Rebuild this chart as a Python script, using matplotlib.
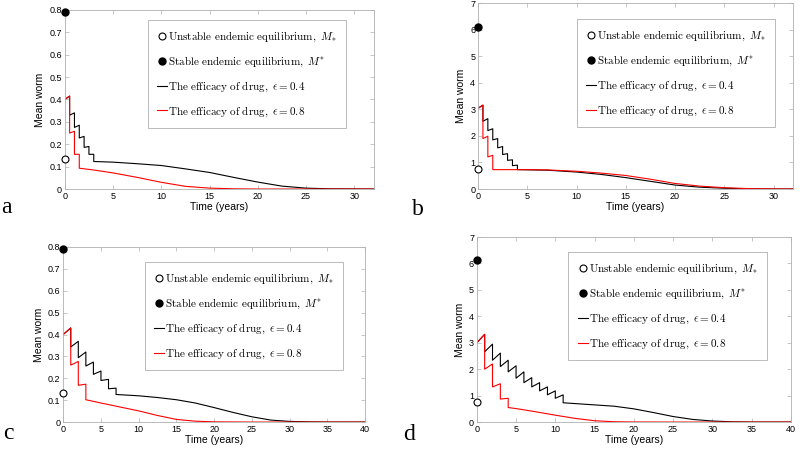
import matplotlib
matplotlib.use("Agg")
import matplotlib.pyplot as plt
from matplotlib.lines import Line2D

plt.rcParams['font.family'] = ['Liberation Sans', 'DejaVu Sans']
plt.rcParams['mathtext.fontset'] = 'cm'

# ---- panel a (0.5-yearly treatment) ----
t_a_04 = [0, 0.5, 0.5, 1, 1, 1.5, 1.5, 2, 2, 2.5, 2.5, 3, 3, 5, 7.5, 10, 12.5, 15, 17.5, 20, 22.5, 25, 27.5, 32]
y_a_04 = [0.40, 0.415, 0.33, 0.34, 0.275, 0.285, 0.228, 0.235, 0.186, 0.19, 0.155, 0.155, 0.123, 0.12, 0.113, 0.105, 0.09, 0.074, 0.052, 0.031, 0.013, 0.004, 0.001, 0.0]
t_a_08 = [0, 0.5, 0.5, 1, 1, 1.5, 1.5, 3, 5, 7.5, 10, 12.5, 15, 17.5, 20, 32]
y_a_08 = [0.40, 0.415, 0.25, 0.258, 0.155, 0.155, 0.093, 0.085, 0.072, 0.052, 0.03, 0.012, 0.004, 0.001, 0.0, 0.0]

# ---- panel b ----
t_b_04 = [0, 0.5, 0.5, 1, 1, 1.5, 1.5, 2, 2, 2.5, 2.5, 3, 3, 3.5, 3.5, 4, 4, 7, 10, 12.5, 15, 17.5, 20, 22.5, 25, 27.5, 30, 32]
y_b_04 = [3.04, 3.16, 2.55, 2.65, 2.2, 2.27, 1.85, 1.9, 1.55, 1.6, 1.3, 1.33, 1.08, 1.1, 0.88, 0.9, 0.73, 0.71, 0.64, 0.55, 0.43, 0.29, 0.15, 0.07, 0.03, 0.008, 0.002, 0.0]
t_b_08 = [0, 0.5, 0.5, 1, 1, 1.5, 1.5, 5, 7, 10, 12.5, 15, 17.5, 20, 22.5, 25, 27.5, 30, 32]
y_b_08 = [3.04, 3.16, 1.9, 1.99, 1.21, 1.27, 0.73, 0.73, 0.72, 0.67, 0.6, 0.51, 0.37, 0.21, 0.11, 0.05, 0.015, 0.004, 0.001]

# ---- panel c (yearly treatment) ----
t_c_04 = [0, 1, 1, 2, 2, 3, 3, 4, 4, 5, 5, 6, 6, 7, 7, 10, 12.5, 15, 17.5, 20, 22.5, 25, 27.5, 30, 32.5, 35, 40]
y_c_04 = [0.40, 0.43, 0.343, 0.369, 0.294, 0.32, 0.256, 0.274, 0.218, 0.233, 0.19, 0.195, 0.152, 0.155, 0.126, 0.12, 0.112, 0.102, 0.087, 0.066, 0.044, 0.024, 0.009, 0.003, 0.001, 0.0, 0.0]
t_c_08 = [0, 1, 1, 2, 2, 3, 3, 5, 7.5, 10, 12.5, 15, 17.5, 20, 25, 40]
y_c_08 = [0.40, 0.43, 0.26, 0.277, 0.168, 0.173, 0.102, 0.087, 0.069, 0.051, 0.03, 0.012, 0.004, 0.001, 0.0, 0.0]

# ---- panel d ----
t_d_04 = [0, 1, 1, 2, 2, 3, 3, 4, 4, 5, 5, 6, 6, 7, 7, 8, 8, 9, 9, 10, 10, 11, 11,
          15, 17.5, 20, 22.5, 25, 27.5, 30, 32.5, 35, 40]
y_d_04 = [3.0, 3.32, 2.66, 2.95, 2.34, 2.61, 2.1, 2.34, 1.9, 2.13, 1.66, 1.9, 1.49, 1.68, 1.33, 1.49, 1.18, 1.33, 1.03, 1.18, 0.9, 1.03, 0.73,
          0.65, 0.6, 0.5, 0.36, 0.21, 0.1, 0.04, 0.01, 0.0, 0.0]
t_d_08 = [0, 1, 1, 2, 2, 3, 3, 4, 4, 5, 7.5, 10, 12.5, 15, 17.5, 20, 25, 40]
y_d_08 = [3.0, 3.32, 2.0, 2.2, 1.33, 1.45, 0.87, 0.9, 0.55, 0.51, 0.39, 0.26, 0.14, 0.05, 0.012, 0.003, 0.0, 0.0]

# equilibria (unstable M_*, stable M^*)
eq_small = [0.135, 0.79]
eq_large = [0.76, 6.12]

panels = [
    ("a", [0.081, 0.579, 0.386, 0.399], t_a_04, y_a_04, t_a_08, y_a_08, eq_small, 32, 0.8, 0.1, (0.912, 0.944)),
    ("b", [0.5975, 0.579, 0.394, 0.414], t_b_04, y_b_04, t_b_08, y_b_08, eq_large, 32, 7, 1, (0.943, 0.914)),
    ("c", [0.079, 0.060, 0.3775, 0.390], t_c_04, y_c_04, t_c_08, y_c_08, eq_small, 40, 0.8, 0.1, (0.927, 0.914)),
    ("d", [0.596, 0.060, 0.3925, 0.412], t_d_04, y_d_04, t_d_08, y_d_08, eq_large, 40, 7, 1, (0.924, 0.919)),
]
letter_pos = {"a": (0.002, 0.515), "b": (0.515, 0.51), "c": (0.004, 0.012), "d": (0.504, 0.008)}

fig = plt.figure(figsize=(8, 4.49), dpi=100)
grey = '#b0b0b0'

for name, rect, t1, y1, t2, y2, eq, xmax, ymax, ystep, anchor in panels:
    ax = fig.add_axes(rect)
    ax.plot(t1, y1, color='black', lw=0.8)
    ax.plot(t2, y2, color='red', lw=0.8)
    ax.plot([0], [eq[0]], 'o', mfc='white', mec='black', ms=5, mew=0.8, clip_on=False, zorder=5)
    ax.plot([0], [eq[1]], 'o', color='black', ms=5, clip_on=False, zorder=5)
    ax.set_xlim(0, xmax)
    ax.set_ylim(0, ymax)
    n = int(round(ymax / ystep))
    ax.set_yticks([i * ystep for i in range(n + 1)])
    ax.set_xticks(list(range(0, xmax + 1, 5)))
    if ystep < 1:
        ax.set_yticklabels(['0'] + ['%.1f' % (i * ystep) for i in range(1, n + 1)])
    ax.tick_params(direction='in', length=3, width=0.5, color=grey, labelsize=6.5,
                   top=True, right=True, pad=2)
    for s in ax.spines.values():
        s.set_color(grey)
        s.set_linewidth(0.6)
    ax.set_xlabel('Time (years)', fontsize=7.5, labelpad=1)
    ax.set_ylabel('Mean worm', fontsize=7.5, labelpad=3)

    handles = [
        Line2D([], [], ls='none', marker='o', mfc='white', mec='black', ms=5, mew=0.8),
        Line2D([], [], ls='none', marker='o', color='black', ms=5),
        Line2D([], [], color='black', lw=0.8),
        Line2D([], [], color='red', lw=0.8),
    ]
    labels = [
        r'$\mathrm{Unstable\ endemic\ equilibrium,}\ M_{*}$',
        r'$\mathrm{Stable\ endemic\ equilibrium,}\ M^{*}$',
        r'$\mathrm{The\ efficacy\ of\ drug,}\ \epsilon=0.4$',
        r'$\mathrm{The\ efficacy\ of\ drug,}\ \epsilon=0.8$',
    ]
    leg = ax.legend(handles, labels, loc='upper right', bbox_to_anchor=anchor, fontsize=8,
                    handlelength=0.9, handletextpad=0.1, labelspacing=0.95, borderpad=0.85,
                    borderaxespad=0, fancybox=False, framealpha=1, edgecolor=grey)
    leg.get_frame().set_linewidth(0.6)

    fig.text(letter_pos[name][0], letter_pos[name][1], name, fontsize=17,
             family='Liberation Serif', ha='left', va='bottom')

fig.savefig('out.png', dpi=100)
